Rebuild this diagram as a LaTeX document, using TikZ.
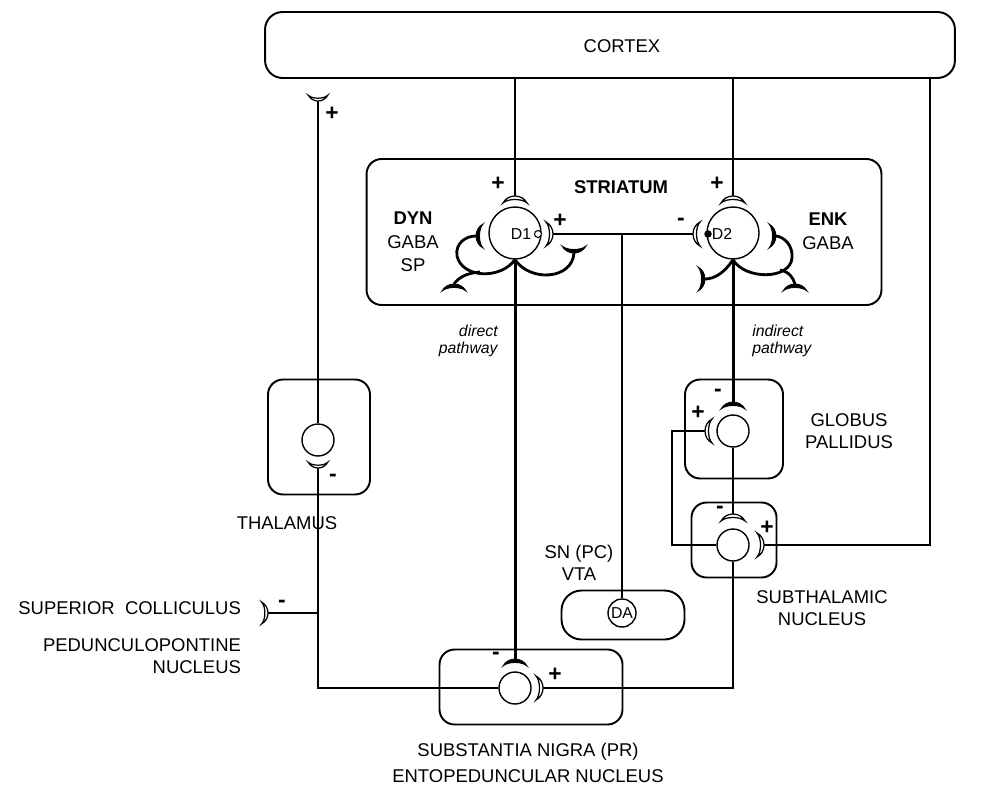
\documentclass[tikz,border=0pt]{standalone}
\usepackage{fontspec}
\setmainfont{Liberation Sans}
\usetikzlibrary{positioning}
\tikzset{
  syn/.pic={\path[pic actions] (-12,7) .. controls (-7,-2.33) and (7,-2.33) .. (12,7)
            .. controls (7,2.33) and (-7,2.33) .. (-12,7) -- cycle;}
}
\begin{document}
\begin{tikzpicture}[x=0.02cm, y=-0.02cm,
    region/.style={draw, line width=1.1pt, rounded corners=0.3cm, inner sep=0},
    cell/.style={circle, draw, line width=0.8pt, inner sep=0, minimum size=0.64cm},
    bigcell/.style={cell, minimum size=1.04cm},
    fibre/.style={line width=0.6pt},
    tract/.style={line width=1.7pt},
    dendr/.style={line width=1.6pt},
    opensyn/.style={draw, fill=white, line width=0.7pt},
    boldsyn/.style={draw, fill=black, line width=0.5pt},
    lbl/.style={font=\fontsize{10.5}{12.5}\selectfont, align=center, inner sep=1pt},
    cname/.style={font=\fontsize{9}{11}\selectfont, inner sep=0},
    pathlbl/.style={font=\fontsize{9}{10}\selectfont\itshape, inner sep=0},
    sgn/.style={font=\fontsize{13}{14}\selectfont\bfseries, inner sep=0}
  ]
  \useasboundingbox (0,0) rectangle (982,790);

  % Regions
  \node[region, rounded corners=0.35cm, minimum width=13.8cm, minimum height=1.32cm]
        (ctx) at (610,45) {};
  \node[region, minimum width=10.3cm, minimum height=2.92cm] (str) at (624,232) {};
  \node[region, minimum width=2.04cm, minimum height=2.3cm] (thl) at (319,437) {};
  \node[region, minimum width=1.96cm, minimum height=1.98cm] (gpe) at (734,429) {};
  \node[region, minimum width=1.7cm, minimum height=1.5cm] (stnb) at (734,540) {};
  \node[region, rounded corners=0.4cm, minimum width=2.46cm, minimum height=0.98cm]
        (vta) at (623,615) {};
  \node[region, minimum width=3.66cm, minimum height=1.5cm] (snb) at (531,687) {};

  % Neurons
  \node[bigcell] (d1) at (515,233) {};
  \node[bigcell] (d2) at (733,233) {};
  \node[cell] (thn) at (318,440) {};
  \node[cell] (gpn) at (733,431) {};
  \node[cell] (stn) at (733,545) {};
  \node[cell] (snr) at (515,688) {};
  \node[cell, minimum size=0.56cm] (da) at (622,613) {};
  \node[cname] at (da) {DA};
  \node[cname] at (521,234) {D1};
  \node[cname] at (722,234) {D2};

  % Cortex to striatum
  \coordinate (d1in) at (515,196);
  \coordinate (d2in) at (733,196);
  \draw[fibre] (ctx.south -| d1in) -- (d1in);
  \draw[fibre] (ctx.south -| d2in) -- (d2in);
  \pic[opensyn] at (d1in) {syn};
  \pic[opensyn] at (d2in) {syn};

  % Cortex to subthalamic nucleus
  \coordinate (rside) at (930,545);
  \coordinate (stnr) at (764,545);
  \draw[fibre] (ctx.south -| rside) -- (rside) -- (stnr);
  \pic[opensyn, rotate=-90] at (stnr) {syn};

  % Thalamus to cortex
  \coordinate (thout) at (318,101);
  \draw[fibre] (thn.north) -- (thout);
  \pic[opensyn, rotate=180, scale=0.8] at (thout) {syn};

  % Substantia nigra to thalamus
  \coordinate (thin) at (318,468);
  \draw[fibre] (thin) |- (snr.west);
  \pic[opensyn, rotate=180, scale=0.8] at (thin) {syn};

  % Superior colliculus
  \coordinate (scin) at (268,613);
  \draw[fibre] (scin) -- (scin -| thin);
  \pic[opensyn, rotate=-90, scale=0.9] at (scin) {syn};

  % Direct and indirect pathways
  \coordinate (snin) at (515,659);
  \coordinate (gpin) at (733,402);
  \draw[tract] (d1.south) -- (snin);
  \draw[tract] (d2.south) -- (gpin);
  \pic[boldsyn] at (snin) {syn};
  \pic[boldsyn] at (gpin) {syn};

  % Pallidum and subthalamic nucleus
  \coordinate (stnin) at (733,514);
  \coordinate (gpl) at (705,431);
  \coordinate (stnloop) at (672,545);
  \coordinate (snrin) at (543,688);
  \draw[fibre] (gpn.south) -- (stnin);
  \draw[fibre] (stn.west) -- (stnloop) |- (gpl);
  \draw[fibre] (stn.south) |- (snrin);
  \pic[opensyn] at (stnin) {syn};
  \pic[opensyn, rotate=90] at (gpl) {syn};
  \pic[opensyn, rotate=-90] at (snrin) {syn};

  % Dopamine
  \coordinate (d1da) at (553,234);
  \coordinate (d2da) at (693,234);
  \draw[fibre] (d1da) -- (d2da);
  \draw[fibre] (da.north) -- (da.north |- d1da);
  \pic[opensyn, rotate=-90] at (d1da) {syn};
  \pic[opensyn, rotate=90] at (d2da) {syn};
  \node[circle, draw, fill=white, line width=0.6pt, inner sep=0, minimum size=0.14cm]
        (d1rec) at (538,234) {};
  \node[circle, fill=black, inner sep=0, minimum size=0.15cm] (d2rec) at (708,234) {};

  % Dendrites
  \draw[dendr] (d1.south) .. controls (500,280) and (462,278) .. (457,256)
               .. controls (455,243) and (466,236) .. (476,236);
  \draw[dendr] (480,272) .. controls (466,273) and (458,278) .. (454,284);
  \draw[dendr] (d1.south) .. controls (530,282) and (572,280) .. (574,253);
  \pic[boldsyn, rotate=90] at (476,236) {syn};
  \pic[boldsyn] at (454,284) {syn};
  \pic[boldsyn, rotate=180] at (574,253) {syn};

  \draw[dendr] (d2.south) .. controls (745,280) and (790,280) .. (792,258)
               .. controls (793,245) and (784,237) .. (776,236);
  \draw[dendr] (780,270) .. controls (790,272) and (793,278) .. (795,284);
  \draw[dendr] (d2.south) .. controls (725,272) and (715,279) .. (705,279);
  \pic[boldsyn, rotate=-90] at (776,236) {syn};
  \pic[boldsyn] at (795,284) {syn};
  \pic[boldsyn, rotate=-90] at (705,279) {syn};

  % Signs
  \node[sgn] at (498,184) {+};
  \node[sgn] at (717,184) {+};
  \node[sgn] at (560,221) {+};
  \node[sgn] at (681,222) {-};
  \node[sgn] at (332,114) {+};
  \node[sgn] at (333,478) {-};
  \node[sgn] at (282,604) {-};
  \node[sgn] at (718,393) {-};
  \node[sgn] at (698,413) {+};
  \node[sgn] at (720,510) {-};
  \node[sgn] at (767,528) {+};
  \node[sgn] at (496,656) {-};
  \node[sgn] at (555,675) {+};

  % Labels
  \node[lbl] at (622,46) {CORTEX};
  \node[lbl, font=\fontsize{10.5}{12.5}\selectfont\bfseries] at (621,187) {STRIATUM};
  \node[lbl] at (413,242) {\textbf{DYN}\\[1pt]GABA\\[1pt]SP};
  \node[lbl] at (828,231) {\textbf{ENK}\\[1pt]GABA};
  \node[pathlbl, anchor=east, align=right] at (498,341) {direct\\pathway};
  \node[pathlbl, anchor=west, align=left] at (752,341) {indirect\\pathway};
  \node[lbl] at (849,431) {GLOBUS\\PALLIDUS};
  \node[lbl] at (822,608) {SUBTHALAMIC\\NUCLEUS};
  \node[lbl] at (287,523) {THALAMUS};
  \node[lbl] at (579,563) {SN (PC)\\VTA};
  \node[lbl, anchor=east] at (243,608) {SUPERIOR\ \ COLLICULUS};
  \node[lbl, anchor=east, align=right] at (243,656) {PEDUNCULOPONTINE\\NUCLEUS};
  \node[lbl] at (528,763) {SUBSTANTIA NIGRA (PR)\\[2pt]ENTOPEDUNCULAR NUCLEUS};
\end{tikzpicture}
\end{document}
